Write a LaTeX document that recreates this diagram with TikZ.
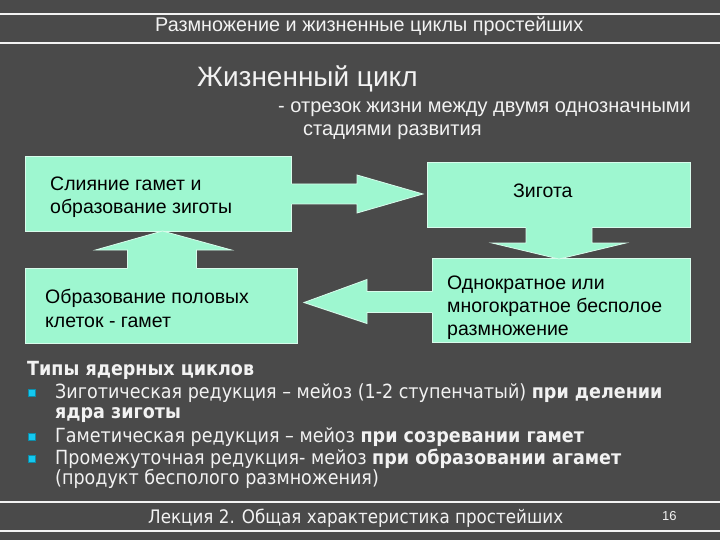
\documentclass[tikz,border=0pt]{standalone}
\usepackage{fontspec}
\setmainfont{Liberation Sans}
\newfontfamily\tah[FakeStretch=0.9]{DejaVu Sans}
\usetikzlibrary{calc}
\definecolor{bg}{RGB}{74,74,74}
\definecolor{mint}{RGB}{158,247,208}
\definecolor{bul}{RGB}{20,200,240}
\definecolor{lt}{RGB}{242,242,242}
\begin{document}
\begin{tikzpicture}[x=1pt,y=-1pt,
  box/.style={draw=white!60!mint, line width=1pt, fill=mint, inner sep=0pt, anchor=north west},
  arr/.style={fill=mint},
  arredge/.style={draw=white!60!mint, line width=0.8pt},
  btxt/.style={font=\fontsize{19.5}{23}\selectfont, text=black, align=left, inner sep=0pt, anchor=base west},
  wtxt/.style={text=lt, inner sep=0pt, anchor=base west},
  ltxt/.style={text=lt, inner sep=0pt, anchor=base west, font=\tah\fontsize{19.5}{21}\selectfont},
  bullet/.style={fill=bul, draw=bul!70!black, line width=0.5pt, minimum size=7pt, inner sep=0pt},
  hline/.style={draw=lt, line width=1.6pt}]
\useasboundingbox[fill=bg] (0,0) rectangle (720,540);
% header / footer rules
\draw[hline] (0,14) -- (720,14);
\draw[hline] (0,43) -- (720,43);
\draw[hline] (0,502) -- (720,502);
\draw[hline] (0,531) -- (720,531);
\node[wtxt, font=\fontsize{19.8}{22}\selectfont] (hdr) at (155,32) {Размножение и жизненные циклы простейших};
\node[wtxt, font=\fontsize{28}{34}\selectfont] (ttl) at (197,87) {Жизненный цикл};
\node[wtxt, font=\fontsize{20}{23}\selectfont] (def1) at (278,113) {- отрезок жизни между двумя однозначными};
\node[wtxt, font=\fontsize{20}{23}\selectfont] (def2) at (303,136) {стадиями развития};
% boxes
\node[box, minimum width=266pt, minimum height=75pt] (b1) at (25,156) {};
\node[box, minimum width=263pt, minimum height=65pt] (b2) at (427,162) {};
\node[box, minimum width=272pt, minimum height=75pt] (b3) at (25,268) {};
\node[box, minimum width=258pt, minimum height=84pt] (b4) at (432,258) {};
% arrows
\fill[arr] ($(b1.east)+(-1,-10)$) -- ($(b1.east)+(65,-10)$) -- ($(b1.east)+(65,-19)$) -- ($(b2.west)+(-4,-1)$) -- ($(b1.east)+(65,19)$) -- ($(b1.east)+(65,10)$) -- ($(b1.east)+(-1,10)$) -- cycle;
\draw[arredge] ($(b1.east)+(0,-10)$) -- ($(b1.east)+(65,-10)$) -- ($(b1.east)+(65,-19)$) -- ($(b2.west)+(-4,-1)$) -- ($(b1.east)+(65,19)$) -- ($(b1.east)+(65,10)$) -- ($(b1.east)+(0,10)$);
\fill[arr] ($(b2.south)+(-33,-1)$) -- ($(b2.south)+(-33,15)$) -- ($(b2.south)+(-67,15)$) -- ($(b2.south |- b4.north)+(0,1)$) -- ($(b2.south)+(67,15)$) -- ($(b2.south)+(33,15)$) -- ($(b2.south)+(33,-1)$) -- cycle;
\draw[arredge] ($(b2.south)+(-33,0)$) -- ($(b2.south)+(-33,15)$) -- ($(b2.south)+(-67,15)$) -- ($(b2.south |- b4.north)+(0,1)$) -- ($(b2.south)+(67,15)$) -- ($(b2.south)+(33,15)$) -- ($(b2.south)+(33,0)$);
\fill[arr] ($(b4.west)+(1,-9)$) -- ($(b4.west)+(-65,-9)$) -- ($(b4.west)+(-65,-21)$) -- ($(b3.east |- b4.west)+(6,2)$) -- ($(b4.west)+(-65,23)$) -- ($(b4.west)+(-65,12)$) -- ($(b4.west)+(1,12)$) -- cycle;
\draw[arredge] ($(b4.west)+(0,-9)$) -- ($(b4.west)+(-65,-9)$) -- ($(b4.west)+(-65,-21)$) -- ($(b3.east |- b4.west)+(6,2)$) -- ($(b4.west)+(-65,23)$) -- ($(b4.west)+(-65,12)$) -- ($(b4.west)+(0,12)$);
\fill[arr] ($(b3.north)+(-34,1)$) -- ($(b3.north)+(-34,-18)$) -- ($(b3.north)+(-66,-18)$) -- ($(b3.north |- b1.south)+(1,-1)$) -- ($(b3.north)+(70,-18)$) -- ($(b3.north)+(35,-18)$) -- ($(b3.north)+(35,1)$) -- cycle;
\draw[arredge] ($(b3.north)+(-34,0)$) -- ($(b3.north)+(-34,-18)$) -- ($(b3.north)+(-66,-18)$) -- ($(b3.north |- b1.south)+(1,-1)$) -- ($(b3.north)+(70,-18)$) -- ($(b3.north)+(35,-18)$) -- ($(b3.north)+(35,0)$);
% box texts
\node[btxt] (t1a) at (50,191) {Слияние гамет и};
\node[btxt] (t1b) at (50,214) {образование зиготы};
\node[btxt] (t2) at (513,198) {Зигота};
\node[btxt] (t3a) at (45,303) {Образование половых};
\node[btxt] (t3b) at (45,327) {клеток - гамет};
\node[btxt] (t4a) at (447,289) {Однократное или};
\node[btxt] (t4b) at (447,312) {многократное бесполое};
\node[btxt] (t4c) at (447,335) {размножение};
% list
\node[ltxt, font=\tah\bfseries\fontsize{19.5}{21}\selectfont] (lh) at (27,375) {Типы ядерных циклов};
\node[bullet] (u1) at (32,393) {};
\node[bullet] (u2) at (32,437) {};
\node[bullet] (u3) at (32,459) {};
\node[ltxt] (l1a) at (55,398) {Зиготическая редукция – мейоз (1-2 ступенчатый) \textbf{при делении}};
\node[ltxt] (l1b) at (55,418) {\textbf{ядра зиготы}};
\node[ltxt] (l2) at (55,442) {Гаметическая редукция – мейоз \textbf{при созревании гамет}};
\node[ltxt] (l3a) at (55,464) {Промежуточная редукция- мейоз \textbf{при образовании агамет}};
\node[ltxt] (l3b) at (55,484) {(продукт бесполого размножения)};
% footer
\node[ltxt, font=\tah\fontsize{18.6}{21}\selectfont] (ft) at (148,523) {Лекция 2. Общая характеристика простейших};
\node[wtxt, font=\fontsize{13}{15}\selectfont] (pg) at (662,520) {16};
\end{tikzpicture}
\end{document}
